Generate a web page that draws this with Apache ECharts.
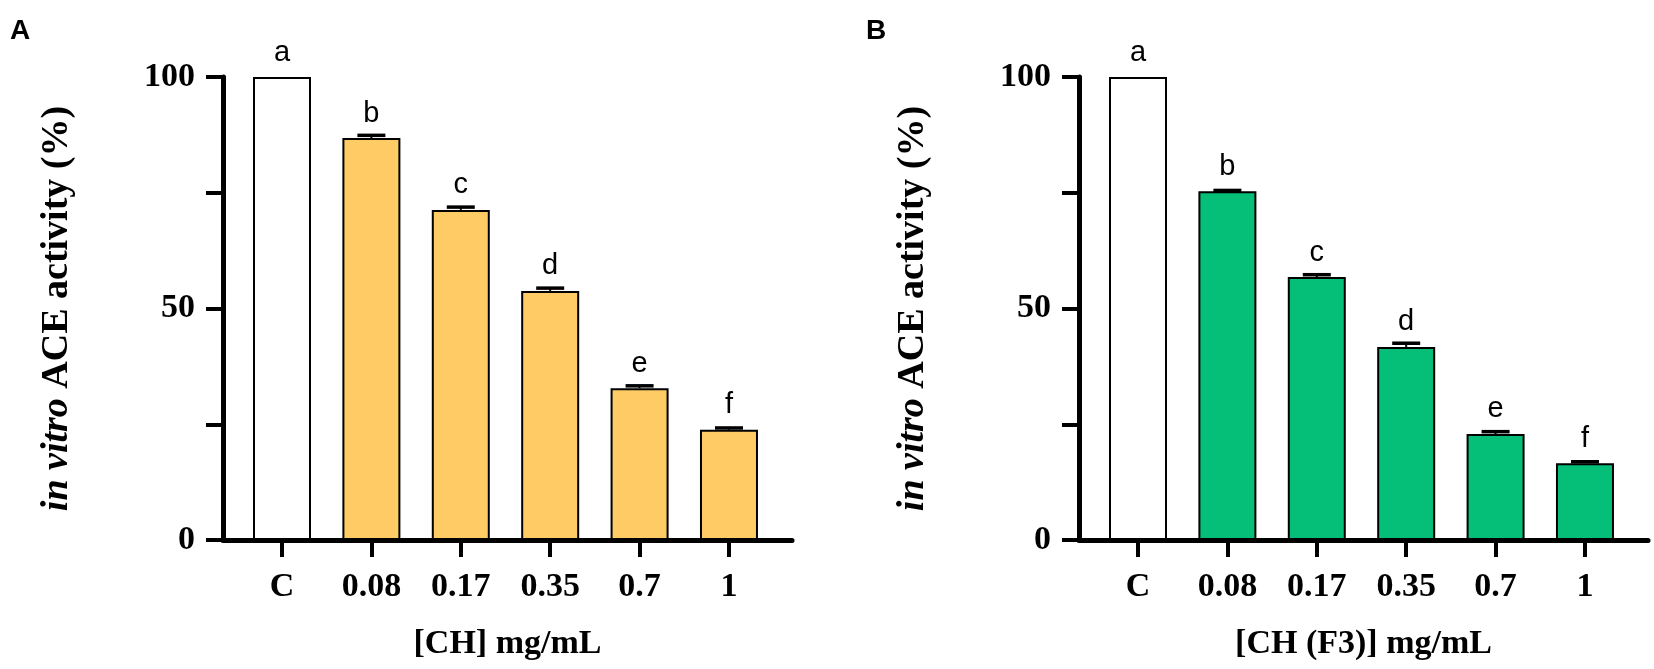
<!DOCTYPE html>
<html>
<head>
<meta charset="utf-8">
<script src="https://cdn.jsdelivr.net/npm/echarts@6/dist/echarts.min.js"></script>
<style>
  html, body { margin: 0; padding: 0; background: #fff; }
  #chart { width: 1654px; height: 669px; }
</style>
</head>
<body>
<div id="chart"></div>
<script>
var categories = ['C', '0.08', '0.17', '0.35', '0.7', '1'];
var letters = ['a', 'b', 'c', 'd', 'e', 'f'];
var activityCH = [100, 86.8, 71.3, 53.8, 32.8, 23.8];
var errorCH = [0, 0.6, 0.6, 0.6, 0.5, 0.4];
var activityF3 = [100, 75.3, 56.8, 41.7, 22.9, 16.6];
var errorF3 = [0, 0.2, 0.5, 0.8, 0.5, 0.3];
var yLabels = [0, 50, 100];

var serif = '"Liberation Serif", "Times New Roman", serif';
var sans = '"Liberation Sans", Arial, sans-serif';
var categoryIndex = [0, 1, 2, 3, 4, 5];

function barData(values, color) {
    return values.map(function (v, i) {
        return {
            value: [i, v],
            itemStyle: {color: i === 0 ? '#ffffff' : color}
        };
    });
}

function errorData(values, errors) {
    return values.map(function (v, i) {
        return [i, v, v + errors[i]];
    });
}

function renderError(params, api) {
    if (api.value(2) <= api.value(1)) {
        return null;
    }
    var base = api.coord([api.value(0), api.value(1)]);
    var top = api.coord([api.value(0), api.value(2)]);
    var half = 14;
    return {
        type: 'group',
        children: [
            {
                type: 'line',
                shape: {x1: base[0], y1: base[1], x2: top[0], y2: top[1]},
                style: {stroke: '#000', lineWidth: 2}
            },
            {
                type: 'line',
                shape: {x1: top[0] - half, y1: top[1], x2: top[0] + half, y2: top[1]},
                style: {stroke: '#000', lineWidth: 3.5}
            }
        ]
    };
}

function xAxisFor(gridIndex, name) {
    return {
        type: 'value',
        gridIndex: gridIndex,
        min: -0.66,
        max: 5.705,
        name: name,
        nameLocation: 'middle',
        nameGap: 87,
        nameTextStyle: {fontFamily: serif, fontWeight: 'bold', fontSize: 34, color: '#000'},
        splitLine: {show: false},
        axisLine: {show: true, onZero: false, lineStyle: {color: '#000', width: 5}},
        axisTick: {show: true, customValues: categoryIndex, length: 17, lineStyle: {color: '#000', width: 4}},
        axisLabel: {
            customValues: categoryIndex,
            margin: 30,
            fontFamily: serif,
            fontWeight: 'bold',
            fontSize: 34,
            color: '#000',
            formatter: function (v) {
                return categories[Math.round(v)];
            }
        }
    };
}

function yAxisFor(gridIndex) {
    return {
        type: 'value',
        gridIndex: gridIndex,
        min: 0,
        max: 100,
        interval: 25,
        name: '{it|in vitro} ACE activity (%)',
        nameLocation: 'middle',
        nameGap: 147,
        nameTextStyle: {
            fontFamily: serif,
            fontWeight: 'bold',
            fontSize: 38,
            color: '#000',
            rich: {
                it: {fontFamily: serif, fontWeight: 'bold', fontStyle: 'italic', fontSize: 38, color: '#000'}
            }
        },
        splitLine: {show: false},
        axisLine: {show: true, onZero: false, lineStyle: {color: '#000', width: 5}},
        axisTick: {show: true, length: 17, lineStyle: {color: '#000', width: 4}},
        axisLabel: {
            margin: 28,
            fontFamily: serif,
            fontWeight: 'bold',
            fontSize: 34,
            color: '#000',
            formatter: function (v) {
                return yLabels.indexOf(v) >= 0 ? String(v) : '';
            }
        }
    };
}

function barSeries(index, values, color) {
    return {
        type: 'bar',
        xAxisIndex: index,
        yAxisIndex: index,
        barWidth: 58,
        data: barData(values, color),
        itemStyle: {borderColor: '#000', borderWidth: 2},
        label: {
            show: true,
            position: 'top',
            distance: 10,
            fontFamily: sans,
            fontSize: 29,
            color: '#000',
            formatter: function (p) {
                return letters[p.dataIndex];
            }
        },
        z: 2
    };
}

function errorSeries(index, values, errors) {
    return {
        type: 'custom',
        xAxisIndex: index,
        yAxisIndex: index,
        renderItem: renderError,
        data: errorData(values, errors),
        z: 3
    };
}

var option = {
    animation: false,
    title: [
        {text: 'A', left: 5, top: 12, textStyle: {fontFamily: sans, fontWeight: 'bold', fontSize: 28, color: '#000'}},
        {text: 'B', left: 861, top: 12, textStyle: {fontFamily: sans, fontWeight: 'bold', fontSize: 28, color: '#000'}}
    ],
    grid: [
        {left: 223, width: 569, top: 77, bottom: 129},
        {left: 1079, width: 569, top: 77, bottom: 129}
    ],
    xAxis: [xAxisFor(0, '[CH] mg/mL'), xAxisFor(1, '[CH (F3)] mg/mL')],
    yAxis: [yAxisFor(0), yAxisFor(1)],
    series: [
        barSeries(0, activityCH, '#FECB65'),
        errorSeries(0, activityCH, errorCH),
        barSeries(1, activityF3, '#05BE78'),
        errorSeries(1, activityF3, errorF3)
    ]
};

var chart = echarts.init(document.getElementById('chart'));
chart.setOption(option);
</script>
</body>
</html>
